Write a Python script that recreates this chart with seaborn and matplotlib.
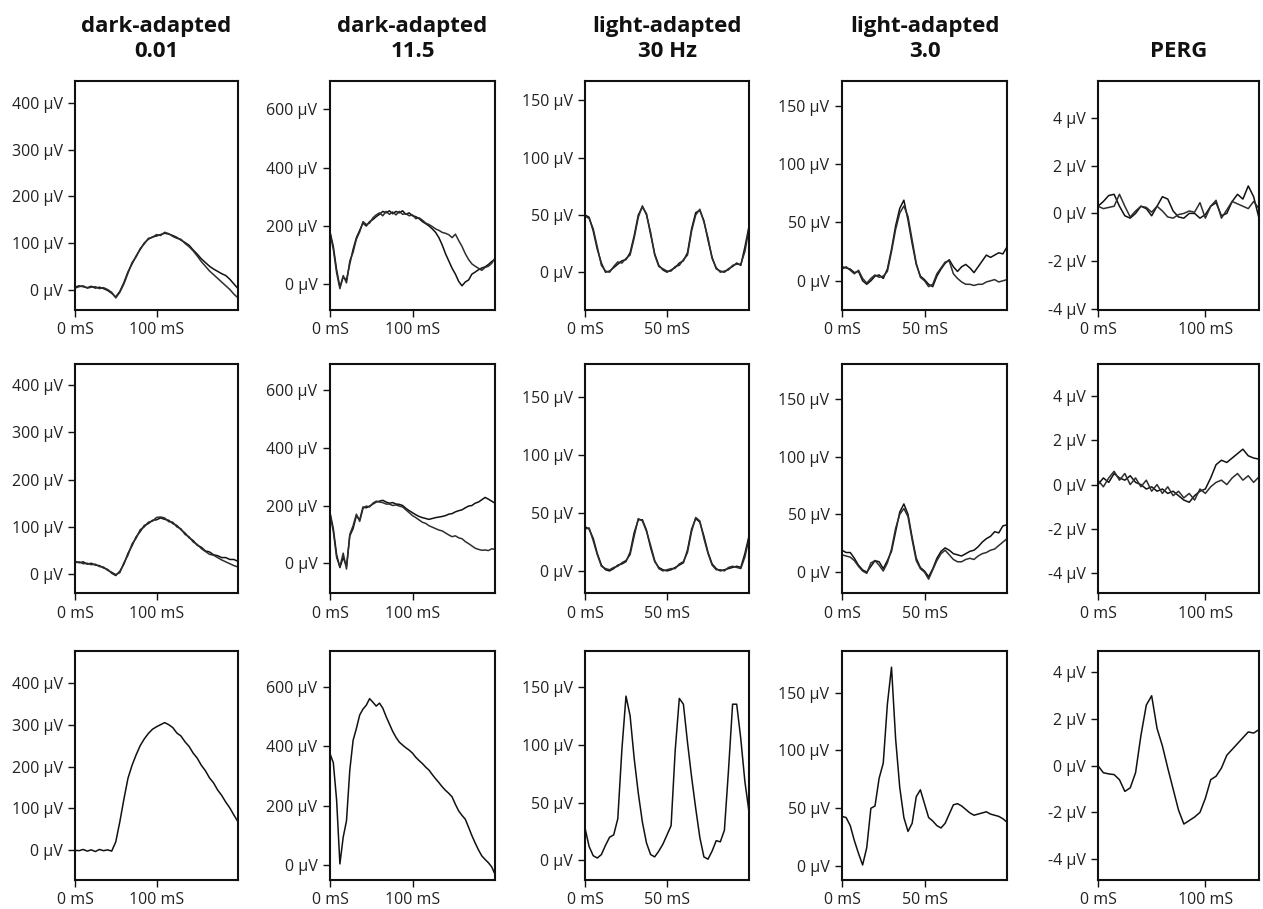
import matplotlib
matplotlib.use("Agg")
import matplotlib.pyplot as plt
import seaborn as sns

sns.set_theme(style="ticks")
plt.rcParams['font.family'] = ['Open Sans', 'DejaVu Sans']

# ---------------- data ----------------
TITLES = ["dark-adapted\n0.01", "dark-adapted\n11.5", "light-adapted\n30 Hz",
          "light-adapted\n3.0", "PERG"]

# sample times (ms)
T_DA001 = [0, 5, 10, 15, 20, 25, 30, 35, 40, 45, 50, 55, 60, 65, 70, 75, 80, 85, 90, 95,
           100, 105, 110, 115, 120, 125, 130, 135, 140, 145, 150, 155, 160, 165, 170, 175,
           180, 185, 190, 195, 200]
T_DA115 = [0, 4, 8, 12, 16, 20, 24, 28, 32, 36, 40, 44, 48, 52, 56, 60, 64, 68, 72, 76,
           80, 84, 88, 92, 96, 100, 104, 108, 112, 116, 120, 124, 128, 132, 136, 140, 144,
           148, 152, 156, 160, 164, 168, 172, 176, 180, 184, 188, 192, 196, 200]
T_LA = [0, 2.5, 5, 7.5, 10, 12.5, 15, 17.5, 20, 22.5, 25, 27.5, 30, 32.5, 35, 37.5, 40,
        42.5, 45, 47.5, 50, 52.5, 55, 57.5, 60, 62.5, 65, 67.5, 70, 72.5, 75, 77.5, 80,
        82.5, 85, 87.5, 90, 92.5, 95, 97.5, 100]
T_PERG = [0, 5, 10, 15, 20, 25, 30, 35, 40, 45, 50, 55, 60, 65, 70, 75, 80, 85, 90, 95,
          100, 105, 110, 115, 120, 125, 130, 135, 140, 145, 150]

# dark-adapted 0.01 (uV)
DA001_R1_A = [5, 8, 6, 4, 7, 3, 5, 2, -2, -8, -16, -4, 15, 38, 55, 72, 86, 100, 108, 113,
              115, 118, 121, 119, 116, 112, 106, 101, 95, 85, 76, 66, 58, 50, 44, 39, 34,
              30, 22, 12, 2]
DA001_R1_B = [3, 6, 8, 3, 5, 6, 2, 4, 0, -6, -18, -6, 12, 35, 58, 70, 88, 98, 110, 112,
              118, 116, 123, 120, 114, 110, 108, 99, 92, 83, 72, 60, 50, 40, 32, 24, 16,
              8, 0, -10, -18]
DA001_R2_A = [27, 24, 26, 21, 23, 19, 18, 13, 10, 2, -3, 6, 21, 44, 60, 79, 90, 103, 107,
              114, 115, 119, 116, 114, 107, 103, 94, 87, 77, 71, 61, 57, 49, 47, 41, 39,
              35, 35, 31, 31, 27]
DA001_R2_B = [24, 26, 22, 23, 20, 21, 16, 15, 8, 4, -1, 3, 24, 40, 64, 76, 94, 100, 110,
              112, 120, 121, 119, 111, 110, 100, 96, 84, 79, 68, 63, 54, 48, 42, 40, 35,
              30, 26, 22, 18, 15]
DA001_R3 = [0, -1, 2, -2, 1, -3, 2, -1, 1, -2, 20, 68, 122, 172, 203, 228, 250, 266, 279,
            289, 295, 300, 305, 300, 293, 280, 273, 259, 248, 232, 220, 203, 190, 173, 161,
            144, 131, 115, 101, 84, 68]

# dark-adapted 11.5 (uV)
DA115_R1_A = [180, 130, 50, -10, 25, 15, 70, 120, 160, 185, 210, 200, 215, 222, 232, 240,
              250, 245, 252, 242, 250, 245, 252, 240, 245, 235, 232, 225, 215, 208, 200,
              190, 178, 160, 135, 105, 80, 55, 35, 10, -5, 8, 15, 35, 42, 50, 56, 60, 68,
              78, 86]
DA115_R1_B = [175, 120, 40, -15, 30, 5, 80, 110, 155, 180, 215, 205, 210, 228, 238, 245,
              235, 250, 240, 248, 238, 250, 240, 242, 235, 238, 225, 228, 220, 210, 205,
              198, 190, 185, 178, 175, 170, 160, 172, 150, 130, 105, 85, 70, 62, 55, 48,
              58, 62, 72, 90]
DA115_R2_A = [175, 120, 30, -15, 20, -10, 95, 120, 165, 150, 195, 192, 198, 205, 212, 215,
              218, 212, 208, 210, 205, 204, 200, 190, 182, 175, 168, 162, 158, 155, 152,
              155, 158, 160, 162, 165, 170, 172, 178, 182, 185, 192, 198, 200, 208, 212,
              220, 228, 222, 215, 208]
DA115_R2_B = [170, 110, 20, -12, 35, -20, 100, 130, 170, 145, 190, 198, 195, 208, 215, 212,
              210, 205, 205, 200, 202, 198, 195, 185, 175, 165, 158, 150, 142, 138, 130,
              125, 120, 115, 112, 105, 98, 92, 95, 88, 85, 75, 68, 60, 52, 48, 45, 46, 44,
              50, 48]
DA115_R3 = [375, 345, 220, 5, 95, 150, 320, 420, 460, 505, 525, 538, 560, 548, 535, 545,
            528, 500, 475, 450, 430, 414, 404, 395, 387, 377, 363, 352, 342, 330, 320, 305,
            291, 278, 264, 252, 242, 230, 205, 183, 168, 155, 128, 100, 75, 52, 32, 20, 9,
            -5, -30]

# light-adapted 30 Hz (uV)
LA30_R1_A = [50, 48, 36, 20, 8, 0, 1, 4, 7, 10, 11, 17, 32, 50, 57, 51, 33, 16, 6, 2, 0,
             2, 4, 8, 10, 17, 38, 52, 54, 45, 28, 13, 3, 1, 0, 3, 5, 8, 6, 22, 40]
LA30_R1_B = [49, 47, 38, 22, 6, 1, 0, 5, 9, 8, 12, 15, 30, 48, 58, 50, 35, 15, 5, 3, 1, 1,
             5, 6, 11, 15, 36, 50, 55, 44, 30, 12, 4, 0, 1, 2, 6, 7, 7, 18, 38]
LA30_R2_A = [38, 36, 28, 15, 5, 1, 0, 2, 5, 6, 8, 16, 33, 44, 44, 35, 20, 8, 3, 1, 0, 1,
             3, 5, 7, 18, 36, 45, 42, 30, 16, 6, 2, 0, 1, 2, 3, 4, 3, 15, 30]
LA30_R2_B = [36, 37, 26, 14, 4, 2, 1, 3, 4, 7, 9, 14, 30, 45, 43, 34, 22, 9, 2, 0, 1, 2, 2,
             6, 8, 16, 34, 46, 43, 28, 15, 5, 1, 1, 0, 3, 4, 3, 2, 12, 28]
LA30_R3 = [28, 12, 4, 2, 5, 13, 20, 22, 36, 96, 142, 125, 88, 58, 33, 15, 5, 3, 8, 14, 22,
           30, 95, 140, 135, 102, 72, 45, 20, 3, 1, 8, 17, 16, 26, 78, 135, 135, 105, 68, 42]

# light-adapted 3.0 (uV)
LA3_R1_A = [12, 11, 10, 7, 8, 0, -3, 0, 4, 5, 2, 10, 27, 47, 62, 69, 52, 32, 14, 4, 1, -3,
            -5, 4, 10, 15, 18, 12, 8, 12, 14, 11, 7, 12, 17, 22, 20, 22, 24, 23, 29]
LA3_R1_B = [10, 12, 9, 6, 9, 2, -2, 2, 5, 3, 4, 8, 25, 44, 58, 64, 55, 35, 15, 3, 0, -5,
            -3, 6, 11, 16, 17, 6, 2, -1, -3, -3, -4, -3, -3, -1, 0, 1, -1, 0, 1]
LA3_R2_A = [19, 17, 17, 12, 6, 2, 0, 5, 10, 9, 3, 10, 18, 35, 52, 59, 50, 30, 12, 4, 1, -4,
            3, 12, 18, 21, 19, 16, 15, 14, 16, 18, 19, 22, 26, 29, 31, 35, 34, 40, 41]
LA3_R2_B = [15, 14, 13, 10, 5, 1, -1, 8, 10, 6, 1, 8, 20, 38, 50, 55, 48, 28, 10, 3, 0, -6,
            2, 10, 16, 19, 15, 11, 9, 9, 11, 12, 11, 14, 16, 17, 19, 20, 23, 26, 29]
LA3_R3 = [43, 42, 35, 22, 11, 1, 16, 50, 52, 76, 89, 140, 172, 110, 68, 42, 30, 37, 60, 66,
          54, 42, 39, 35, 33, 37, 45, 53, 54, 52, 49, 46, 44, 45, 46, 47, 45, 44, 43, 41, 38]

# PERG (uV)
PERG_R1_A = [0.3, 0.5, 0.75, 0.8, 0.3, -0.1, -0.2, 0.0, 0.3, 0.2, -0.1, 0.3, 0.7, 0.6, 0.1,
             -0.15, -0.2, 0.0, 0.0, -0.2, -0.05, 0.3, 0.45, -0.1, 0.0, 0.5, 0.8, 0.6, 1.15,
             0.7, -0.2]
PERG_R1_B = [0.3, 0.2, 0.25, 0.3, 0.8, 0.3, -0.15, 0.1, 0.3, 0.25, 0.05, 0.3, 0.1, -0.15,
             -0.2, -0.05, 0.0, 0.1, 0.05, 0.45, -0.2, 0.3, 0.55, -0.2, 0.15, 0.5, 0.4, 0.3,
             0.2, 0.5, 0.2]
PERG_R2_A = [0.0, 0.3, 0.1, 0.5, 0.3, 0.2, 0.4, 0.1, 0.0, -0.2, -0.1, -0.3, -0.2, -0.4,
             -0.3, -0.5, -0.7, -0.8, -0.5, -0.3, -0.2, 0.3, 0.9, 1.1, 1.0, 1.2, 1.4, 1.6,
             1.3, 1.2, 1.15]
PERG_R2_B = [0.2, -0.1, 0.3, 0.6, 0.2, 0.5, 0.0, 0.3, -0.1, 0.2, -0.3, 0.0, -0.4, -0.1,
             -0.5, -0.3, -0.6, -0.4, -0.7, -0.2, -0.4, -0.1, 0.1, 0.2, 0.0, 0.3, 0.5, 0.2,
             0.4, 0.1, 0.35]
PERG_R3 = [0.0, -0.3, -0.35, -0.38, -0.6, -1.1, -0.95, -0.3, 1.3, 2.6, 3.0, 1.6, 0.85, -0.1,
           -1.0, -1.9, -2.5, -2.35, -2.2, -2.0, -1.4, -0.6, -0.45, -0.1, 0.45, 0.7, 0.95,
           1.2, 1.45, 1.4, 1.55]

COL_TIME = [T_DA001, T_DA115, T_LA, T_LA, T_PERG]
TRACES = [
    [[DA001_R1_A, DA001_R1_B], [DA115_R1_A, DA115_R1_B], [LA30_R1_A, LA30_R1_B],
     [LA3_R1_A, LA3_R1_B], [PERG_R1_A, PERG_R1_B]],
    [[DA001_R2_A, DA001_R2_B], [DA115_R2_A, DA115_R2_B], [LA30_R2_A, LA30_R2_B],
     [LA3_R2_A, LA3_R2_B], [PERG_R2_A, PERG_R2_B]],
    [[DA001_R3], [DA115_R3], [LA30_R3], [LA3_R3], [PERG_R3]],
]

Y_TICKS = [[0, 100, 200, 300, 400], [0, 200, 400, 600], [0, 50, 100, 150],
           [0, 50, 100, 150], [-4, -2, 0, 2, 4]]
X_TICKS = [[0, 100], [0, 100], [0, 50], [0, 50], [0, 100]]
X_LIMS = [(0, 200), (0, 200), (0, 100), (0, 100), (0, 150)]
Y_LIMS = [
    [(-44, 448), (-88, 697), (-33, 167), (-25, 171), (-4.05, 5.55)],
    [(-40, 445), (-103, 690), (-19, 178), (-18, 180), (-4.9, 5.45)],
    [(-71, 476), (-49, 720), (-17, 181), (-12, 186), (-4.9, 4.92)],
]

# ---------------- layout ----------------
W, H = 1263, 909
COL_LEFT = [75, 330, 585, 842, 1098]
COL_W = [163, 165, 164, 165, 161]
ROW_TOP = [81, 364, 651]
ROW_H = [229, 229, 229]

fig = plt.figure(figsize=(W / 100, H / 100), dpi=100, facecolor="white")

LINE_COLORS = ["#111111", "#2e2e2e"]

for r in range(3):
    for c in range(5):
        l, w = COL_LEFT[c], COL_W[c]
        t, h = ROW_TOP[r], ROW_H[r]
        ax = fig.add_axes([l / W, 1 - (t + h) / H, w / W, h / H])
        for k, tr in enumerate(TRACES[r][c]):
            sns.lineplot(x=COL_TIME[c], y=tr, ax=ax, color=LINE_COLORS[k],
                         linewidth=1.1, estimator=None)
        ax.set_xlim(*X_LIMS[c])
        ax.set_ylim(*Y_LIMS[r][c])
        ax.set_yticks(Y_TICKS[c])
        ax.set_yticklabels([f"{v} µV" for v in Y_TICKS[c]])
        ax.set_xticks(X_TICKS[c])
        ax.set_xticklabels([f"{v} mS" for v in X_TICKS[c]])
        ax.set_xlabel("")
        ax.set_ylabel("")
        for s in ax.spines.values():
            s.set_visible(True)
            s.set_linewidth(1.5)
            s.set_color("#111111")
        ax.tick_params(axis="both", direction="out", length=5, width=1.0,
                       labelsize=11.5, pad=4, colors="#111111", labelcolor="#222222",
                       top=False, right=False)
        ax.set_facecolor("white")
        if r == 0:
            ax.set_title(TITLES[c], fontsize=16, fontweight="bold", pad=17,
                         linespacing=1.25, color="#111111")

fig.savefig("out.png", dpi=100, facecolor="white")
